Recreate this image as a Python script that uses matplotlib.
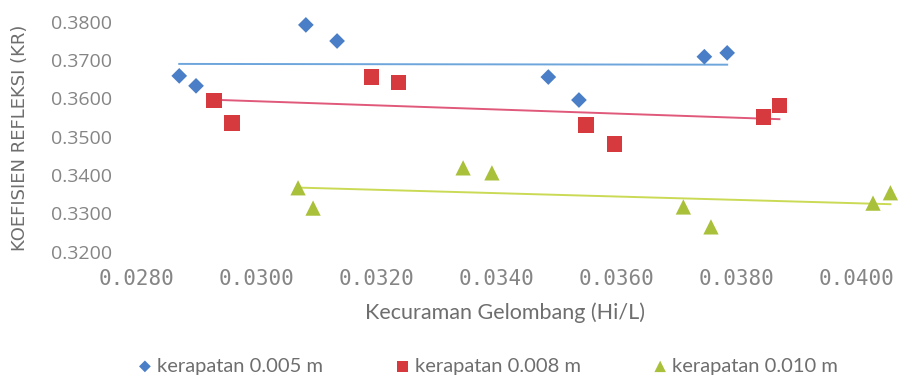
import numpy as np
import matplotlib
matplotlib.use("Agg")
import matplotlib.pyplot as plt

# steepness (Hi/L) vs reflection coefficient (KR) for three spacing variants
x_005 = [0.02872, 0.02900, 0.03083, 0.03135, 0.03487, 0.03538, 0.03747, 0.03785]
kr_005 = [0.3659, 0.3633, 0.3792, 0.3750, 0.3656, 0.3596, 0.3709, 0.3719]

x_008 = [0.02930, 0.02960, 0.03192, 0.03237, 0.03550, 0.03597, 0.03845, 0.03872]
kr_008 = [0.3594, 0.3536, 0.3656, 0.3641, 0.3531, 0.3481, 0.3552, 0.3581]

x_010 = [0.03070, 0.03095, 0.03345, 0.03393, 0.03712, 0.03758, 0.04028, 0.04057]
kr_010 = [0.3367, 0.3314, 0.3419, 0.3406, 0.3317, 0.3265, 0.3327, 0.3354]

labels = ["kerapatan 0.005 m", "kerapatan 0.008 m", "kerapatan 0.010 m"]
x_ticks = [0.028, 0.030, 0.032, 0.034, 0.036, 0.038, 0.040]
y_ticks = [0.32, 0.33, 0.34, 0.35, 0.36, 0.37, 0.38]

# marker, marker colour, trendline colour, marker size (pt)
series = [
    (x_005, kr_005, "D", "#4a7ec6", "#6ea6dc", 8),
    (x_008, kr_008, "s", "#d63a3f", "#e0587a", 11),
    (x_010, kr_010, "^", "#a9c03a", "#cbda55", 11),
]

fig = plt.figure(figsize=(9.02, 3.79), dpi=100)
ax = fig.add_axes([0.1508, 0.3306, 0.847, 0.6694])

handles = []
for (xs, ys, marker, mcol, lcol, ms), lab in zip(series, labels):
    xs = np.array(xs)
    ys = np.array(ys)
    # linear trendline across the data range
    slope, icpt = np.polyfit(xs, ys, 1)
    xl = np.array([xs.min(), xs.max()])
    ax.plot(xl, slope * xl + icpt, color=lcol, lw=1.4, zorder=2)
    h = ax.scatter(xs, ys, marker=marker, s=ms ** 2, color=mcol,
                   edgecolors="none", zorder=3, label=lab)
    handles.append(h)

ax.set_xlim(0.028, 0.04073)
ax.set_ylim(0.3195, 0.3857)
ax.set_xticks(x_ticks)
ax.set_xticklabels([f"{v:.4f}" for v in x_ticks])
ax.set_yticks(y_ticks)
ax.set_yticklabels([f"{v:.4f}" for v in y_ticks])

for s in ax.spines.values():
    s.set_visible(False)
ax.tick_params(length=0, colors="#858585")
for t in ax.get_xticklabels():
    t.set_fontsize(15)
    t.set_fontfamily("DejaVu Sans Mono")
for t in ax.get_yticklabels():
    t.set_fontsize(14)
    t.set_fontfamily("Open Sans")
ax.tick_params(axis="x", pad=11)
ax.tick_params(axis="y", pad=17)

ax.set_xlabel("Kecuraman Gelombang (Hi/L)", fontsize=15.5, color="#6e6e6e",
              family="Lato", va="center")
ax.xaxis.set_label_coords(0.483, -0.234)
ax.set_ylabel("KOEFISIEN REFLEKSI (KR)", fontsize=13, color="#6e6e6e",
              family="DejaVu Sans", va="center")
ax.yaxis.set_label_coords(-0.152, 0.456)

fig.legend(handles=handles, labels=labels, loc="center",
           bbox_to_anchor=(0.541, 0.034), ncol=3, frameon=False,
           prop={"family": "Lato", "size": 14.5}, labelcolor="#6e6e6e",
           handlelength=0.7, handletextpad=0.25, columnspacing=3.6,
           markerscale=0.75)

fig.savefig("out.png", dpi=100)
